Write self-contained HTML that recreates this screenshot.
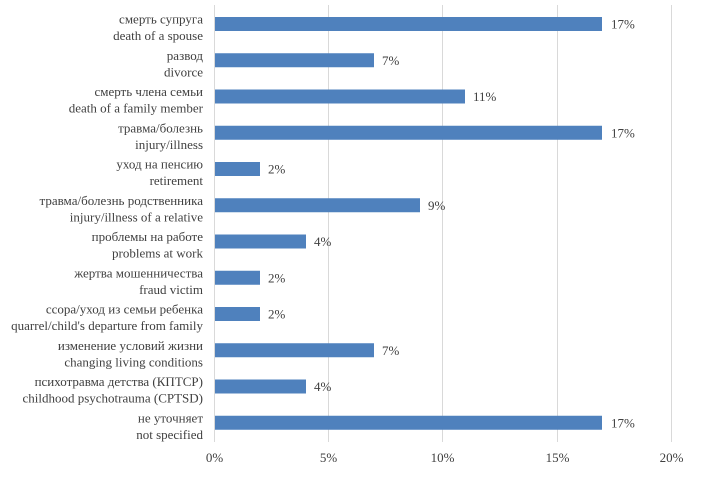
<!DOCTYPE html>
<html><head><meta charset="utf-8"><style>
body{margin:0;background:#fff;}
svg text{font-family:"Liberation Serif",serif;font-size:13px;fill:#404040;}
</style></head><body>
<svg width="706" height="492" xmlns="http://www.w3.org/2000/svg">
<g stroke="#d9d9d9" stroke-width="1">
<line x1="214.5" y1="5" x2="214.5" y2="442"/>
<line x1="328.5" y1="5" x2="328.5" y2="442"/>
<line x1="442.5" y1="5" x2="442.5" y2="442"/>
<line x1="557.5" y1="5" x2="557.5" y2="442"/>
<line x1="671.5" y1="5" x2="671.5" y2="442"/>
</g>
<g fill="#4f81bd">
<rect x="215" y="17" width="387" height="14"/>
<rect x="215" y="53.25" width="159" height="14"/>
<rect x="215" y="89.5" width="250" height="14"/>
<rect x="215" y="125.75" width="387" height="14"/>
<rect x="215" y="162" width="45" height="14"/>
<rect x="215" y="198.25" width="205" height="14"/>
<rect x="215" y="234.5" width="91" height="14"/>
<rect x="215" y="270.75" width="45" height="14"/>
<rect x="215" y="307" width="45" height="14"/>
<rect x="215" y="343.25" width="159" height="14"/>
<rect x="215" y="379.5" width="91" height="14"/>
<rect x="215" y="415.75" width="387" height="14"/>
</g>
<g>
<text x="611" y="28.5">17%</text>
<text x="382" y="64.75">7%</text>
<text x="473" y="101">11%</text>
<text x="611" y="137.25">17%</text>
<text x="268" y="173.5">2%</text>
<text x="428" y="209.75">9%</text>
<text x="314" y="246">4%</text>
<text x="268" y="282.25">2%</text>
<text x="268" y="318.5">2%</text>
<text x="382" y="354.75">7%</text>
<text x="314" y="391">4%</text>
<text x="611" y="427.25">17%</text>
</g>
<g text-anchor="end" style="font-size:13.7px">
<text x="203" y="23.5">смерть супруга</text><text x="203" y="40">death of a spouse</text>
<text x="203" y="59.75">развод</text><text x="203" y="76.25">divorce</text>
<text x="203" y="96">смерть члена семьи</text><text x="203" y="112.5">death of a family member</text>
<text x="203" y="132.25">травма/болезнь</text><text x="203" y="148.75">injury/illness</text>
<text x="203" y="168.5">уход на пенсию</text><text x="203" y="185">retirement</text>
<text x="203" y="204.75">травма/болезнь родственника</text><text x="203" y="221.25">injury/illness of a relative</text>
<text x="203" y="241">проблемы на работе</text><text x="203" y="257.5">problems at work</text>
<text x="203" y="277.25">жертва мошенничества</text><text x="203" y="293.75">fraud victim</text>
<text x="203" y="313.5">ссора/уход из семьи ребенка</text><text x="203" y="330">quarrel/child's departure from family</text>
<text x="203" y="349.75">изменение условий жизни</text><text x="203" y="366.25">changing living conditions</text>
<text x="203" y="386">психотравма детства (КПТСР)</text><text x="203" y="402.5">childhood psychotrauma (CPTSD)</text>
<text x="203" y="422.25">не уточняет</text><text x="203" y="438.75">not specified</text>
</g>
<g text-anchor="middle">
<text x="214.5" y="462">0%</text>
<text x="328.5" y="462">5%</text>
<text x="442.5" y="462">10%</text>
<text x="557.5" y="462">15%</text>
<text x="671.5" y="462">20%</text>
</g>
</svg>
</body></html>
